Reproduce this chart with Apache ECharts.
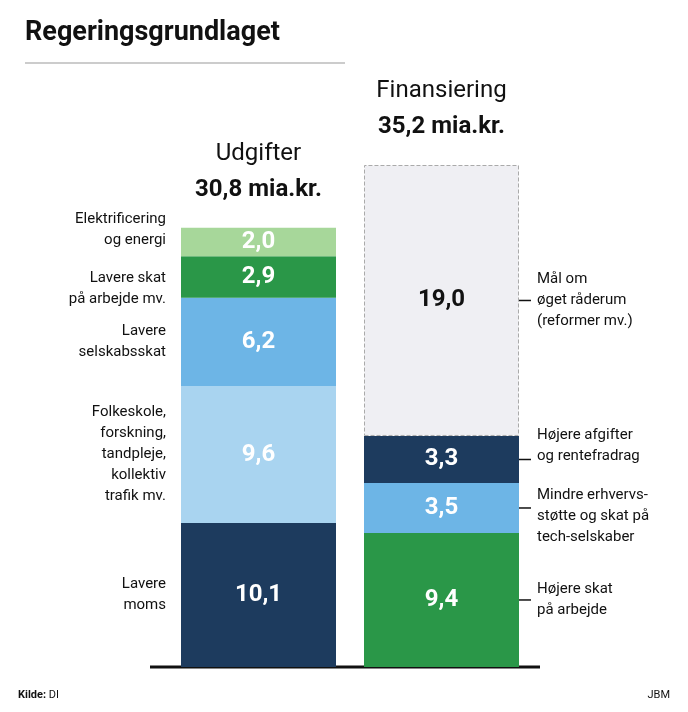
<!DOCTYPE html>
<html><head><meta charset="utf-8">
<script src="https://cdn.jsdelivr.net/npm/echarts@6/dist/echarts.min.js"></script>
<style>body{margin:0;background:#fff}#chart-container{width:688px;height:712px}</style>
</head><body>
<div id="chart-container"></div>
<script>
var FONT = "'Liberation Sans Narrow', 'Roboto', sans-serif";
// Data
var categories = ['Udgifter', 'Finansiering'];
var totals = ['30,8 mia.kr.', '35,2 mia.kr.'];
var udgifterNames = ['Lavere\nmoms', 'Folkeskole,\nforskning,\ntandpleje,\nkollektiv\ntrafik mv.', 'Lavere\nselskabsskat', 'Lavere skat\npå arbejde mv.', 'Elektrificering\nog energi'];
var udgifterValues = [10.1, 9.6, 6.2, 2.9, 2.0];
var udgifterColors = ['#1d3b5e', '#a9d4f0', '#6db5e6', '#2a9748', '#a7d79a'];
var finansNames = ['Højere skat\npå arbejde', 'Mindre erhvervs-\nstøtte og skat på\ntech-selskaber', 'Højere afgifter\nog rentefradrag', 'Mål om\nøget råderum\n(reformer mv.)'];
var finansValues = [9.4, 3.5, 3.3, 19.0];
var finansColors = ['#2a9748', '#6db5e6', '#1d3b5e', '#efeff3'];

// label nudges so neighbouring texts don't collide
var udgifterShift = [0, 0, 0, 12, -12];
var finansShift = [0, 8, -14, 0];

var chart = echarts.init(document.getElementById('chart-container'));

function fmt(v) { return v.toFixed(1).replace('.', ','); }

var series = [];
udgifterValues.forEach(function(v, i) {
    series.push({
        type: 'bar', stack: 'a', barWidth: 155,
        data: [v, '-'],
        itemStyle: { color: udgifterColors[i] },
        label: { show: true, color: '#fff', fontWeight: 'bold', fontSize: 24, fontFamily: FONT, formatter: function(p) { return fmt(p.value); } }
    });
});
finansValues.forEach(function(v, i) {
    var last = i === finansValues.length - 1;
    series.push({
        type: 'bar', stack: 'a', barWidth: 155,
        data: ['-', v],
        itemStyle: last ? { color: finansColors[i], borderColor: '#aaa', borderType: 'dashed', borderWidth: 1 } : { color: finansColors[i] },
        label: { show: true, color: last ? '#111' : '#fff', fontWeight: 'bold', fontSize: 24, fontFamily: FONT, formatter: function(p) { return fmt(p.value); } }
    });
});

var option = {
    animation: false,
    grid: { left: 167, right: 155, top: 165, bottom: 45 },
    xAxis: { type: 'category', data: categories, show: false },
    yAxis: { type: 'value', min: 0, max: 35.2, show: false },
    series: series
};
chart.setOption(option);

var g = [
    { type: 'text', left: 25, top: 20, style: { text: 'Regeringsgrundlaget', font: 'bold 27px ' + FONT, fill: '#111' } },
    { type: 'line', shape: { x1: 25, y1: 63, x2: 345, y2: 63 }, style: { stroke: '#bbb', lineWidth: 1.5 } },
    { type: 'line', shape: { x1: 150, y1: 667, x2: 540, y2: 667 }, style: { stroke: '#111', lineWidth: 3 } },
    { type: 'text', left: 18, top: 690, style: { text: '{b|Kilde:} DI', rich: { b: { fontWeight: 'bold', fontSize: 11, fontFamily: FONT } }, font: '11px ' + FONT, fill: '#111' } },
    { type: 'text', right: 18, top: 690, style: { text: 'JBM', font: '11px ' + FONT, fill: '#111' } }
];
function addSide(names, values, shifts, idx, leftSide) {
    var cum = 0;
    values.forEach(function(v, i) {
        var mid = cum + v / 2; cum += v;
        var y = chart.convertToPixel({ seriesIndex: 0 }, [idx, mid])[1];
        var ty = y + shifts[i];
        if (leftSide) {
            g.push({ type: 'line', shape: { x1: 183, y1: y, x2: 205, y2: y }, style: { stroke: '#111', lineWidth: 1.5 } });
            g.push({ type: 'text', x: 166, y: ty, style: { text: names[i], textAlign: 'right', textVerticalAlign: 'middle', font: '15px ' + FONT, lineHeight: 21, fill: '#111' } });
        } else {
            g.push({ type: 'line', shape: { x1: 515, y1: y, x2: 531, y2: y }, style: { stroke: '#111', lineWidth: 1.5 } });
            g.push({ type: 'text', x: 537, y: ty, style: { text: names[i], textAlign: 'left', textVerticalAlign: 'middle', font: '15px ' + FONT, lineHeight: 21, fill: '#111' } });
        }
    });
    var top = chart.convertToPixel({ seriesIndex: 0 }, [idx, cum]);
    g.push({ type: 'text', x: top[0], y: top[1] - 38, style: { text: totals[idx], textAlign: 'center', textVerticalAlign: 'middle', font: 'bold 24px ' + FONT, fill: '#111' } });
    g.push({ type: 'text', x: top[0], y: top[1] - 74, style: { text: categories[idx], textAlign: 'center', textVerticalAlign: 'middle', font: '24px ' + FONT, fill: '#111' } });
}
addSide(udgifterNames, udgifterValues, udgifterShift, 0, true);
addSide(finansNames, finansValues, finansShift, 1, false);
chart.setOption({ graphic: g });

window.addEventListener('resize', function() { chart.resize(); });
</script>
</body></html>
